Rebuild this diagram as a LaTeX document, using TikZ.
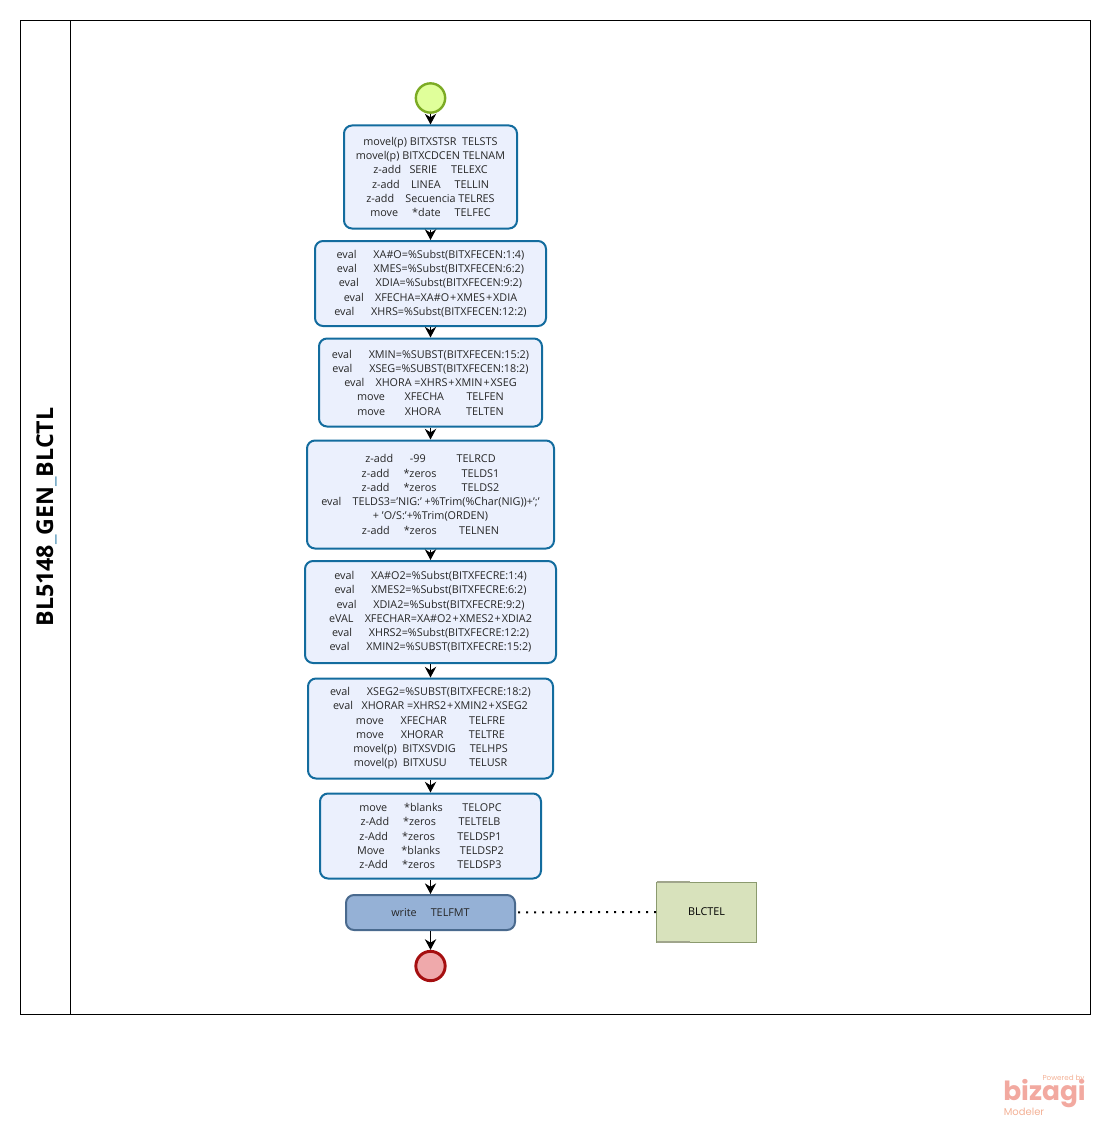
\documentclass[tikz,border=0pt]{standalone}
\usepackage{fontspec}
\setmainfont{Open Sans}
\newfontfamily\logofont{Poppins}
\usetikzlibrary{arrows.meta}
\definecolor{taskfill}{HTML}{EBF0FD}
\definecolor{taskline}{HTML}{136C9E}
\definecolor{writefill}{HTML}{95B1D6}
\definecolor{writeline}{HTML}{4A6A8E}
\definecolor{startfill}{HTML}{E0FF9A}
\definecolor{startline}{HTML}{7CAB24}
\definecolor{stopfill}{HTML}{EFA9AB}
\definecolor{stopline}{HTML}{A50F10}
\definecolor{storefill}{HTML}{D8E2BC}
\definecolor{storeline}{HTML}{8B9A6E}
\definecolor{storeedge}{HTML}{A0A58C}
\definecolor{logoa}{HTML}{F3B196}
\definecolor{logob}{HTML}{F2A9A0}
\newcommand\pl{\kern.7pt+\kern.7pt}
\tikzset{
  taskbox/.style 2 args={draw=taskline,fill=taskfill,line width=1.5pt,rounded corners=6pt,
    minimum width=#1*0.75pt,minimum height=#2*0.75pt,inner sep=0pt,align=center,
    font=\fontsize{8.1}{10.7}\selectfont,text=black!85},
  flow/.style={draw=black,line width=1pt,-{Stealth[length=8pt,width=8.5pt]}},
}
\begin{document}
\begin{tikzpicture}[x=0.75pt,y=-0.75pt]
  \useasboundingbox (0,0) rectangle (1110,1127);
  % pool
  \node[draw=black,line width=0.75pt,minimum width=1070*0.75pt,minimum height=993*0.75pt,inner sep=0pt] (pool) at (555.5,517.5) {};
  \coordinate (laneT) at (70,21);
  \coordinate (laneB) at (70,1014);
  \draw[line width=0.75pt] (laneT)--(laneB);
  \node[rotate=90,font=\fontsize{17.4}{20}\selectfont\bfseries] (title) at (46.5,517) {BL5148{\color{taskline!60}\_}GEN{\color{taskline!60}\_}BLCTL};
  % events
  \node[circle,draw=startline,fill=startfill,line width=1.8pt,minimum size=22pt,inner sep=0pt] (start) at (430.5,98) {};
  \node[circle,draw=stopline,fill=stopfill,line width=2.2pt,minimum size=22pt,inner sep=0pt] (stop) at (430.5,966) {};
  % tasks
  \node[taskbox={173}{103}] (t1) at (430.5,177) {movel(p) BITXSTSR~~TELSTS\\
    movel(p) BITXCDCEN TELNAM\\
    z-add~~~SERIE~~~~~TELEXC\\
    z-add~~~~LINEA~~~~~TELLIN\\
    z-add~~~~Secuencia TELRES\\
    move~~~~~*date~~~~~TELFEC};
  \node[taskbox={231}{85}] (t2) at (430.5,283.5) {eval~~~~~~XA\#O=\%Subst(BITXFECEN:1:4)\\
    eval~~~~~~XMES=\%Subst(BITXFECEN:6:2)\\
    eval~~~~~~XDIA=\%Subst(BITXFECEN:9:2)\\
    eval~~~~XFECHA=XA\#O\pl XMES\pl XDIA\\
    eval~~~~~~XHRS=\%Subst(BITXFECEN:12:2)};
  \node[taskbox={223}{88}] (t3) at (430.5,382.5) {eval~~~~~~XMIN=\%SUBST(BITXFECEN:15:2)\\
    eval~~~~~~XSEG=\%SUBST(BITXFECEN:18:2)\\
    eval~~~~XHORA =XHRS\pl XMIN\pl XSEG\\
    move~~~~~~~XFECHA~~~~~~~~TELFEN\\
    move~~~~~~~XHORA~~~~~~~~~TELTEN};
  \node[taskbox={247}{108}] (t4) at (430.5,494.5) {z-add~~~~~~-99~~~~~~~~~~~TELRCD\\
    z-add~~~~~*zeros~~~~~~~~~TELDS1\\
    z-add~~~~~*zeros~~~~~~~~~TELDS2\\
    eval~~~~TELDS3='NIG:' +\%Trim(\%Char(NIG))+';'\\
    + 'O/S:'+\%Trim(ORDEN)\\
    z-add~~~~~*zeros~~~~~~~~TELNEN};
  \node[taskbox={251}{102}] (t5) at (430.5,612) {eval~~~~~~XA\#O2=\%Subst(BITXFECRE:1:4)\\
    eval~~~~~~XMES2=\%Subst(BITXFECRE:6:2)\\
    eval~~~~~~XDIA2=\%Subst(BITXFECRE:9:2)\\
    eVAL~~~~XFECHAR=XA\#O2\pl XMES2\pl XDIA2\\
    eval~~~~~~XHRS2=\%Subst(BITXFECRE:12:2)\\
    eval~~~~~~XMIN2=\%SUBST(BITXFECRE:15:2)};
  \node[taskbox={245}{100}] (t6) at (430.5,728.5) {eval~~~~~~XSEG2=\%SUBST(BITXFECRE:18:2)\\
    eval~~~XHORAR =XHRS2\pl XMIN2\pl XSEG2\\
    move~~~~~~XFECHAR~~~~~~~~TELFRE\\
    move~~~~~~XHORAR~~~~~~~~~TELTRE\\
    movel(p)~~BITXSVDIG~~~~~TELHPS\\
    movel(p)~~BITXUSU~~~~~~~~TELUSR};
  \node[taskbox={221}{85}] (t7) at (430.5,836) {move~~~~~~*blanks~~~~~~~TELOPC\\
    z-Add~~~~~*zeros~~~~~~~~TELTELB\\
    z-Add~~~~~*zeros~~~~~~~~TELDSP1\\
    Move~~~~~~*blanks~~~~~~~TELDSP2\\
    z-Add~~~~~*zeros~~~~~~~~TELDSP3};
  \node[taskbox={169}{35},draw=writeline,fill=writefill] (write) at (430.5,912.5) {write~~~~~TELFMT};
  % data store
  \node[draw=storeline,fill=storefill,line width=0.75pt,outer sep=0pt,minimum width=75pt,minimum height=45pt,inner sep=0pt,font=\fontsize{8.1}{10.7}\selectfont] (store) at (706.5,912) {BLCTEL};
  \draw[storeedge,line width=1.5pt] (store.north west)--++(33,0) (store.south west)--++(33,0);
  % flows
  \draw[flow] (start)--(t1);
  \draw[flow] (t1)--(t2);
  \draw[flow] (t2)--(t3);
  \draw[flow] (t3)--(t4);
  \draw[flow] (t4)--(t5);
  \draw[flow] (t5)--(t6);
  \draw[flow] (t6)--(t7);
  \draw[flow] (t7)--(write);
  \draw[flow] (write)--(stop);
  \draw[line width=1.5pt,dash pattern=on 1.5pt off 4.5pt,shorten <=1.5pt] (write)--(store);
  % logo
  \node[text=logoa,inner sep=0pt,font=\logofont\fontsize{5.4}{7}\selectfont] (powered) at (1063.5,1079) {Powered by};
  \node[text=logob,inner sep=0pt,font=\logofont\bfseries\fontsize{19.8}{22}\selectfont] (bizagi) at (1044.5,1094) {bizagi};
  \node[text=logoa,inner sep=0pt,font=\logofont\fontsize{7.5}{9}\selectfont] (modeler) at (1024,1111.5) {Modeler};
\end{tikzpicture}
\end{document}
